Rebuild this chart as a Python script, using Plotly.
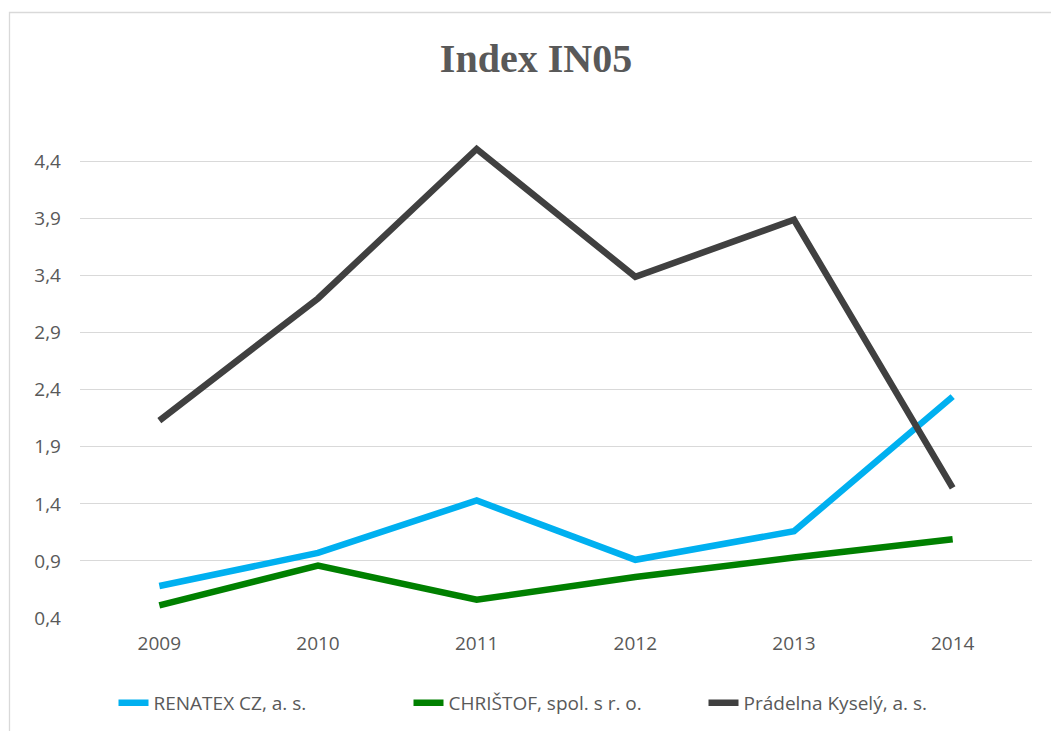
import plotly.graph_objects as go

years = ["2009", "2010", "2011", "2012", "2013", "2014"]
renatex = [0.68, 0.97, 1.43, 0.91, 1.16, 2.34]
christof = [0.51, 0.86, 0.56, 0.76, 0.93, 1.09]
pradelna = [2.13, 3.20, 4.51, 3.39, 3.89, 1.54]

y_ticks = [0.4, 0.9, 1.4, 1.9, 2.4, 2.9, 3.4, 3.9, 4.4]
y_tick_text = ["0,4", "0,9", "1,4", "1,9", "2,4", "2,9", "3,4", "3,9", "4,4"]

series = [
    ("RENATEX CZ, a. s.", renatex, "#00B0F0"),
    ("CHRIŠTOF, spol. s r. o.", christof, "#008000"),
    ("Prádelna Kyselý, a. s.", pradelna, "#404040"),
]

fig = go.Figure()
for name, vals, color in series:
    fig.add_trace(go.Scatter(
        x=years, y=vals, name=name, mode="lines",
        line=dict(color=color, width=6.5),
    ))

W, H = 1051, 731
ml, mr, mt, mb = 80, 19, 133, 113
pw, ph = W - ml - mr, H - mt - mb

def px_x(x):
    return (x - ml) / pw

def px_y(y):
    return (H - mb - y) / ph

label_font = dict(family="Open Sans, Liberation Sans, sans-serif", size=19, color="#595959")

fig.update_layout(
    width=W, height=H,
    margin=dict(l=ml, r=mr, t=mt, b=mb, autoexpand=False),
    paper_bgcolor="white", plot_bgcolor="white",
    title=dict(
        text="<b>Index IN05</b>",
        font=dict(family="Liberation Serif, Times New Roman, serif", size=40, color="#595959"),
        x=536 / W, xanchor="center", xref="container",
        y=1 - 58 / H, yanchor="middle", yref="container",
    ),
    xaxis=dict(
        type="category", range=[-0.5, 5.5],
        showgrid=False, zeroline=False, showline=False,
        ticks="", ticklabelstandoff=12,
        tickfont=label_font,
    ),
    yaxis=dict(
        range=[0.4, 4.65], tickvals=y_ticks, ticktext=y_tick_text,
        showgrid=True, gridcolor="#D9D9D9", gridwidth=1.3,
        zeroline=False, showline=False, ticks="", ticklabelstandoff=18,
        tickfont=label_font,
    ),
    legend=dict(
        orientation="h", x=0.5, xanchor="center",
        y=px_y(703), yanchor="middle",
        entrywidth=250, entrywidthmode="pixels",
        font=label_font,
        bgcolor="rgba(0,0,0,0)",
    ),
    showlegend=True,
)

# light outer frame of the chart
fig.add_shape(
    type="rect", xref="paper", yref="paper",
    x0=px_x(9.5), x1=px_x(1053), y0=px_y(733), y1=px_y(12.5),
    line=dict(color="#D9D9D9", width=1.3), fillcolor="rgba(0,0,0,0)",
    layer="below",
)

fig.write_html("out.html")
